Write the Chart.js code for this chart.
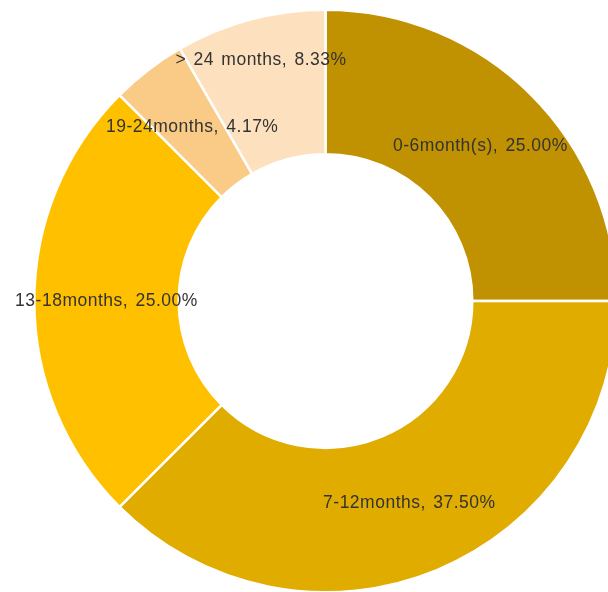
<!DOCTYPE html>
<html>
<head>
<meta charset="utf-8">
<script src="https://cdn.jsdelivr.net/npm/chart.js@4/dist/chart.umd.min.js"></script>
<style>
  html, body { margin: 0; padding: 0; background: #ffffff; overflow: hidden; width: 608px; height: 592px; }
  #wrap { position: absolute; left: 0; top: 0; width: 651px; height: 602px; }
</style>
</head>
<body>
<div id="wrap"><canvas id="chart"></canvas></div>
<script>
// Tenure buckets and their share of respondents (%)
const categories = ['0-6month(s)', '7-12months', '13-18months', '19-24months', '> 24 months'];
const shares = [25.00, 37.50, 25.00, 4.17, 8.33];
const sliceColors = ['#C09100', '#E0AC00', '#FFC000', '#F9CB86', '#FDE1BE'];

// Draws "label, value%" inside each slice of the ring
const sliceLabels = {
  id: 'sliceLabels',
  afterDatasetsDraw(chart, args, opts) {
    const ctx = chart.ctx;
    const meta = chart.getDatasetMeta(0);
    ctx.save();
    ctx.font = opts.font;
    ctx.fillStyle = opts.color;
    if ('letterSpacing' in ctx) ctx.letterSpacing = opts.letterSpacing;
    if ('wordSpacing' in ctx) ctx.wordSpacing = opts.wordSpacing;
    ctx.textAlign = 'center';
    ctx.textBaseline = 'middle';
    meta.data.forEach((arc, i) => {
      const p = arc.getProps(['x', 'y', 'startAngle', 'endAngle', 'innerRadius', 'outerRadius'], true);
      const mid = (p.startAngle + p.endAngle) / 2;
      const frac = (opts.radialFraction && opts.radialFraction[i] != null) ? opts.radialFraction[i] : 0.5;
      const r = p.innerRadius + frac * (p.outerRadius - p.innerRadius);
      const value = chart.data.datasets[0].data[i];
      const text = chart.data.labels[i] + ', ' + value.toFixed(2) + '%';
      ctx.fillText(text, p.x + Math.cos(mid) * r, p.y + Math.sin(mid) * r);
    });
    ctx.restore();
  }
};

new Chart(document.getElementById('chart'), {
  type: 'doughnut',
  data: {
    labels: categories,
    datasets: [{
      data: shares,
      backgroundColor: sliceColors,
      borderColor: '#ffffff',
      borderWidth: 2.5,
      hoverOffset: 0
    }]
  },
  options: {
    responsive: true,
    maintainAspectRatio: false,
    animation: false,
    cutout: '50.4%',
    layout: { padding: { left: 33, right: 33, top: 8.5, bottom: 8.5 } },
    plugins: {
      legend: { display: false },
      tooltip: { enabled: false },
      sliceLabels: {
        font: '17.5px "Liberation Sans", Arial, sans-serif',
        color: '#333333',
        letterSpacing: '0.5px',
        wordSpacing: '2px',
        radialFraction: [0.5, 0.5, 0.5, 0.5, 0.71]
      }
    }
  },
  plugins: [sliceLabels]
});
</script>
</body>
</html>
